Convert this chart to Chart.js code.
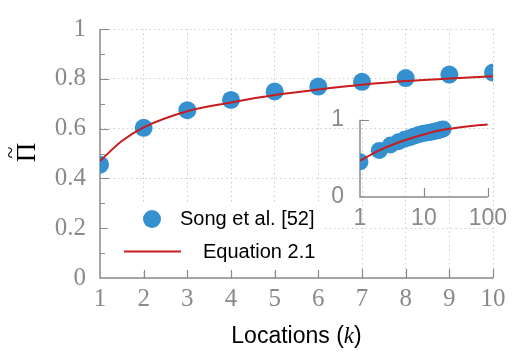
<!DOCTYPE html>
<html>
<head>
<meta charset="utf-8">
<script src="https://cdn.jsdelivr.net/npm/chart.js@4.4.0/dist/chart.umd.min.js"></script>
<style>
  html, body { margin: 0; padding: 0; background: #fff; }
  #wrap { position: relative; width: 515px; height: 354px; }
  #main { position: absolute; left: 0; top: 0; }
  #inset { position: absolute; left: 300px; top: 90px; }
</style>
</head>
<body>
<div id="wrap">
  <canvas id="main" width="515" height="354"></canvas>
  <canvas id="inset" width="215" height="140"></canvas>
</div>
<script>
// values
const locations = [1, 2, 3, 4, 5, 6, 7, 8, 9, 10];
const songValues = [0.455, 0.603, 0.674, 0.715, 0.749, 0.769, 0.788, 0.803, 0.817, 0.825];

const curveK = [1, 1.5, 2, 3, 4, 5, 6, 7, 8, 9, 10];
const curveValues = [0.47, 0.55, 0.605, 0.67, 0.705, 0.735, 0.757, 0.776, 0.791, 0.801, 0.81];

const insetK = [1, 2, 3, 4, 5, 6, 7, 8, 9, 10, 11, 12, 13, 14, 15, 16, 17, 18, 19, 20];
const insetValues = [0.455, 0.603, 0.674, 0.715, 0.749, 0.769, 0.788, 0.803, 0.817, 0.825,
                     0.83, 0.835, 0.84, 0.848, 0.853, 0.858, 0.863, 0.868, 0.874, 0.88];

const insetCurveK = [1, 2, 5, 10, 20, 50, 100];
const insetCurveValues = [0.47, 0.605, 0.735, 0.81, 0.87, 0.917, 0.94];

const xTicksMain = [1, 2, 3, 4, 5, 6, 7, 8, 9, 10];
const yTicksMain = [0, 0.2, 0.4, 0.6, 0.8, 1];
const yMinorMain = [0.1, 0.3, 0.5, 0.7, 0.9];
const xTicksInset = [1, 10, 100];
const yTicksInset = [0, 1];

const BLUE = '#3590cf';
const RED = '#c81c1e';
const GREY = '#8a8a8a';

const toPoints = (xs, ys) => xs.map((x, i) => ({x: x, y: ys[i]}));

// axis lines + inward tick marks
function axisMarks(xMarks, yMarks, yMinor) {
  return {
    id: 'axisMarks',
    beforeDatasetsDraw(chart) {
      const {ctx, chartArea: a, scales: {x, y}} = chart;
      ctx.save();
      ctx.strokeStyle = GREY;
      ctx.lineWidth = 1.5;
      ctx.beginPath();
      ctx.moveTo(a.left, a.top);
      ctx.lineTo(a.left, a.bottom);
      ctx.lineTo(a.right, a.bottom);
      ctx.stroke();
      ctx.lineWidth = 1.2;
      ctx.beginPath();
      xMarks.forEach(v => {
        const px = Math.round(x.getPixelForValue(v)) + 0.5;
        ctx.moveTo(px, a.bottom);
        ctx.lineTo(px, a.bottom - 9);
      });
      yMarks.forEach(v => {
        const py = Math.round(y.getPixelForValue(v)) + 0.5;
        ctx.moveTo(a.left, py);
        ctx.lineTo(a.left + 9, py);
      });
      yMinor.forEach(v => {
        const py = Math.round(y.getPixelForValue(v)) + 0.5;
        ctx.moveTo(a.left, py);
        ctx.lineTo(a.left + 5, py);
      });
      ctx.stroke();
      ctx.restore();
    }
  };
}

const mainDecor = {
  id: 'mainDecor',
  afterDatasetsDraw(chart) {
    const ctx = chart.ctx;
    ctx.save();
    // legend
    ctx.fillStyle = '#fff';
    ctx.fillRect(108, 203, 216, 67);
    ctx.fillStyle = BLUE;
    ctx.beginPath();
    ctx.arc(152, 219, 9, 0, Math.PI * 2);
    ctx.fill();
    ctx.strokeStyle = RED;
    ctx.lineWidth = 2;
    ctx.beginPath();
    ctx.moveTo(124, 251.5);
    ctx.lineTo(181, 251.5);
    ctx.stroke();
    ctx.fillStyle = '#000';
    ctx.font = '20px "Liberation Sans"';
    ctx.textBaseline = 'middle';
    ctx.textAlign = 'left';
    ctx.fillText('Song et al. [52]', 180, 219);
    ctx.fillText('Equation 2.1', 203, 252);

    // x title
    ctx.textBaseline = 'alphabetic';
    const sans = '23px "Liberation Sans"';
    const ital = 'italic 23px "Liberation Serif"';
    const parts = [['Locations (', sans], ['k', ital], [')', sans]];
    let w = 0;
    parts.forEach(p => { ctx.font = p[1]; w += ctx.measureText(p[0]).width; });
    const a = chart.chartArea;
    let px = (a.left + a.right) / 2 - w / 2;
    parts.forEach(p => {
      ctx.font = p[1];
      ctx.fillText(p[0], px, 343);
      px += ctx.measureText(p[0]).width;
    });

    // y title: Pi with a tilde above it
    ctx.translate(35, (a.top + a.bottom) / 2 - 1);
    ctx.rotate(-Math.PI / 2);
    ctx.textAlign = 'center';
    ctx.font = '27px "Liberation Serif"';
    ctx.fillText('\u03A0', 0, 0);
    ctx.font = '22px "Liberation Serif"';
    ctx.textBaseline = 'middle';
    ctx.fillText('~', 0, -24);
    ctx.restore();
  }
};

new Chart(document.getElementById('main'), {
  type: 'scatter',
  data: {
    datasets: [
      {
        label: 'Equation 2.1',
        type: 'line',
        data: toPoints(curveK, curveValues),
        borderColor: RED,
        borderWidth: 2,
        pointRadius: 0,
        cubicInterpolationMode: 'monotone',
        fill: false,
        order: 0
      },
      {
        label: 'Song et al. [52]',
        data: toPoints(locations, songValues),
        backgroundColor: BLUE,
        borderWidth: 0,
        pointRadius: 9,
        pointHoverRadius: 9,
        order: 1
      }
    ]
  },
  options: {
    responsive: false,
    animation: false,
    events: [],
    layout: { padding: { left: 0, right: 22, top: 15, bottom: 0 } },
    plugins: { legend: { display: false }, tooltip: { enabled: false } },
    scales: {
      x: {
        type: 'linear', min: 1, max: 10,
        afterBuildTicks: s => { s.ticks = xTicksMain.map(v => ({value: v})); },
        afterFit: s => { s.height = 76; },
        ticks: { color: GREY, font: { family: '"Liberation Serif"', size: 25 }, padding: 6, maxRotation: 0 },
        grid: { color: '#cdcdcd', lineWidth: 1, drawTicks: false },
        border: { display: false, dash: [1.5, 3] }
      },
      y: {
        min: 0, max: 1,
        afterBuildTicks: s => { s.ticks = yTicksMain.map(v => ({value: v})); },
        afterFit: s => { s.width = 100; },
        ticks: { color: GREY, font: { family: '"Liberation Serif"', size: 25 }, padding: 14,
                 callback: v => String(Math.round(v * 10) / 10) },
        grid: { color: '#cdcdcd', lineWidth: 1, drawTicks: false },
        border: { display: false, dash: [1.5, 3] }
      }
    }
  },
  plugins: [axisMarks(xTicksMain.slice(1), yTicksMain.slice(1), yMinorMain), mainDecor]
});

new Chart(document.getElementById('inset'), {
  type: 'scatter',
  data: {
    datasets: [
      {
        label: 'Equation 2.1',
        type: 'line',
        data: toPoints(insetCurveK, insetCurveValues),
        borderColor: RED,
        borderWidth: 2,
        pointRadius: 0,
        cubicInterpolationMode: 'monotone',
        fill: false,
        order: 0
      },
      {
        label: 'Song et al. [52]',
        data: toPoints(insetK, insetValues),
        backgroundColor: BLUE,
        borderWidth: 0,
        pointRadius: 8.5,
        order: 1
      }
    ]
  },
  options: {
    responsive: false,
    animation: false,
    events: [],
    layout: { padding: { left: 0, right: 22, top: 16, bottom: 0 } },
    plugins: { legend: { display: false }, tooltip: { enabled: false } },
    scales: {
      x: {
        type: 'logarithmic', min: 1, max: 100,
        afterBuildTicks: s => { s.ticks = xTicksInset.map(v => ({value: v})); },
        afterFit: s => { s.height = 33; },
        ticks: { color: GREY, font: { family: '"Liberation Sans"', size: 23 }, padding: 8, maxRotation: 0,
                 callback: v => String(v) },
        grid: { display: false, drawTicks: false },
        border: { display: false }
      },
      y: {
        min: 0, max: 1,
        afterBuildTicks: s => { s.ticks = yTicksInset.map(v => ({value: v})); },
        afterFit: s => { s.width = 60; },
        ticks: { color: GREY, font: { family: '"Liberation Sans"', size: 23 }, padding: 16 },
        grid: { display: false, drawTicks: false },
        border: { display: false }
      }
    }
  },
  plugins: [axisMarks(xTicksInset.slice(1), yTicksInset.slice(1), [])]
});
</script>
</body>
</html>
